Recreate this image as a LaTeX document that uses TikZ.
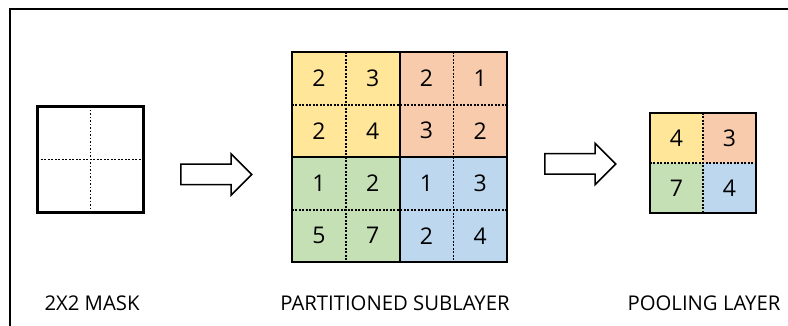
\documentclass[tikz,border=0pt]{standalone}
\usepackage{fontspec}
\setmainfont{Open Sans}
\usetikzlibrary{shapes.arrows}

\definecolor{q00}{HTML}{FFE699}
\definecolor{q01}{HTML}{F8CBAD}
\definecolor{q10}{HTML}{C5E0B4}
\definecolor{q11}{HTML}{BDD7EE}

\tikzset{
  cell/.style={minimum width=53.75pt, minimum height=52.5pt, inner sep=0pt,
    font=\fontsize{23}{26}\selectfont},
  poolcell/.style={cell, minimum width=53pt, minimum height=50pt},
  dotline/.style={line width=1.9pt, dash pattern=on 1.9pt off 1.6pt},
  edge/.style={line width=1.8pt},
  blockarrow/.style={single arrow, draw, line width=1.5pt, fill=white,
    inner xsep=0pt, inner ysep=9.5pt, minimum height=71pt,
    single arrow head extend=10.5pt, anchor=tail},
  caption/.style={font=\fontsize{20.3}{24}\selectfont, anchor=base}
}

\begin{document}
\begin{tikzpicture}[x=1pt, y=-1pt]
  \useasboundingbox (0,0) rectangle (788,326);
  \draw[line width=2.2pt] (10,326) -- (10,9) -- (788,9);

  % 2x2 mask
  \node[draw, edge, minimum size=105pt, inner sep=0pt] (mask) at (90.5,159.5) {};
  \draw[dotline] (mask.north) -- (mask.south);
  \draw[dotline] (mask.west) -- (mask.east);
  \draw[edge] (mask.north west) rectangle (mask.south east);

  \node[blockarrow] (arrA) at (180,174.5) {};

  % partitioned sublayer, 4x4
  \foreach \row/\va/\vb/\vc/\vd in {0/2/3/2/1, 1/2/4/3/2, 2/1/2/1/3, 3/5/7/2/4} {
    \foreach \col/\val in {0/\va, 1/\vb, 2/\vc, 3/\vd} {
      \pgfmathtruncatemacro\qr{\row/2}
      \pgfmathtruncatemacro\qc{\col/2}
      \node[cell, fill=q\qr\qc] (s\row\col)
        at ({292+53.75*(\col+0.5)}, {52+52.5*(\row+0.5)}) {\val};
    }
  }
  \draw[dotline] (s00.north east) -- (s30.south east);
  \draw[dotline] (s02.north east) -- (s32.south east);
  \draw[dotline] (s00.south west) -- (s03.south east);
  \draw[dotline] (s20.south west) -- (s23.south east);
  \draw[edge] (s01.north east) -- (s31.south east);
  \draw[edge] (s10.south west) -- (s13.south east);
  \draw[edge] (s00.north west) rectangle (s33.south east);

  \node[blockarrow] (arrB) at (544,164) {};

  % pooling layer, 2x2
  \foreach \row/\col/\val in {0/0/4, 0/1/3, 1/0/7, 1/1/4} {
    \node[poolcell, fill=q\row\col] (p\row\col)
      at ({650+53*(\col+0.5)}, {113+50*(\row+0.5)}) {\val};
  }
  \draw[dotline] (p00.north east) -- (p10.south east);
  \draw[dotline] (p00.south west) -- (p01.south east);
  \draw[edge] (p00.north west) rectangle (p11.south east);

  \node[caption] (capmask) at (92,310) {2X2 MASK};
  \node[caption] (capsub) at (395,310) {PARTITIONED SUBLAYER};
  \node[caption] (cappool) at (704,310) {POOLING LAYER};
\end{tikzpicture}
\end{document}
